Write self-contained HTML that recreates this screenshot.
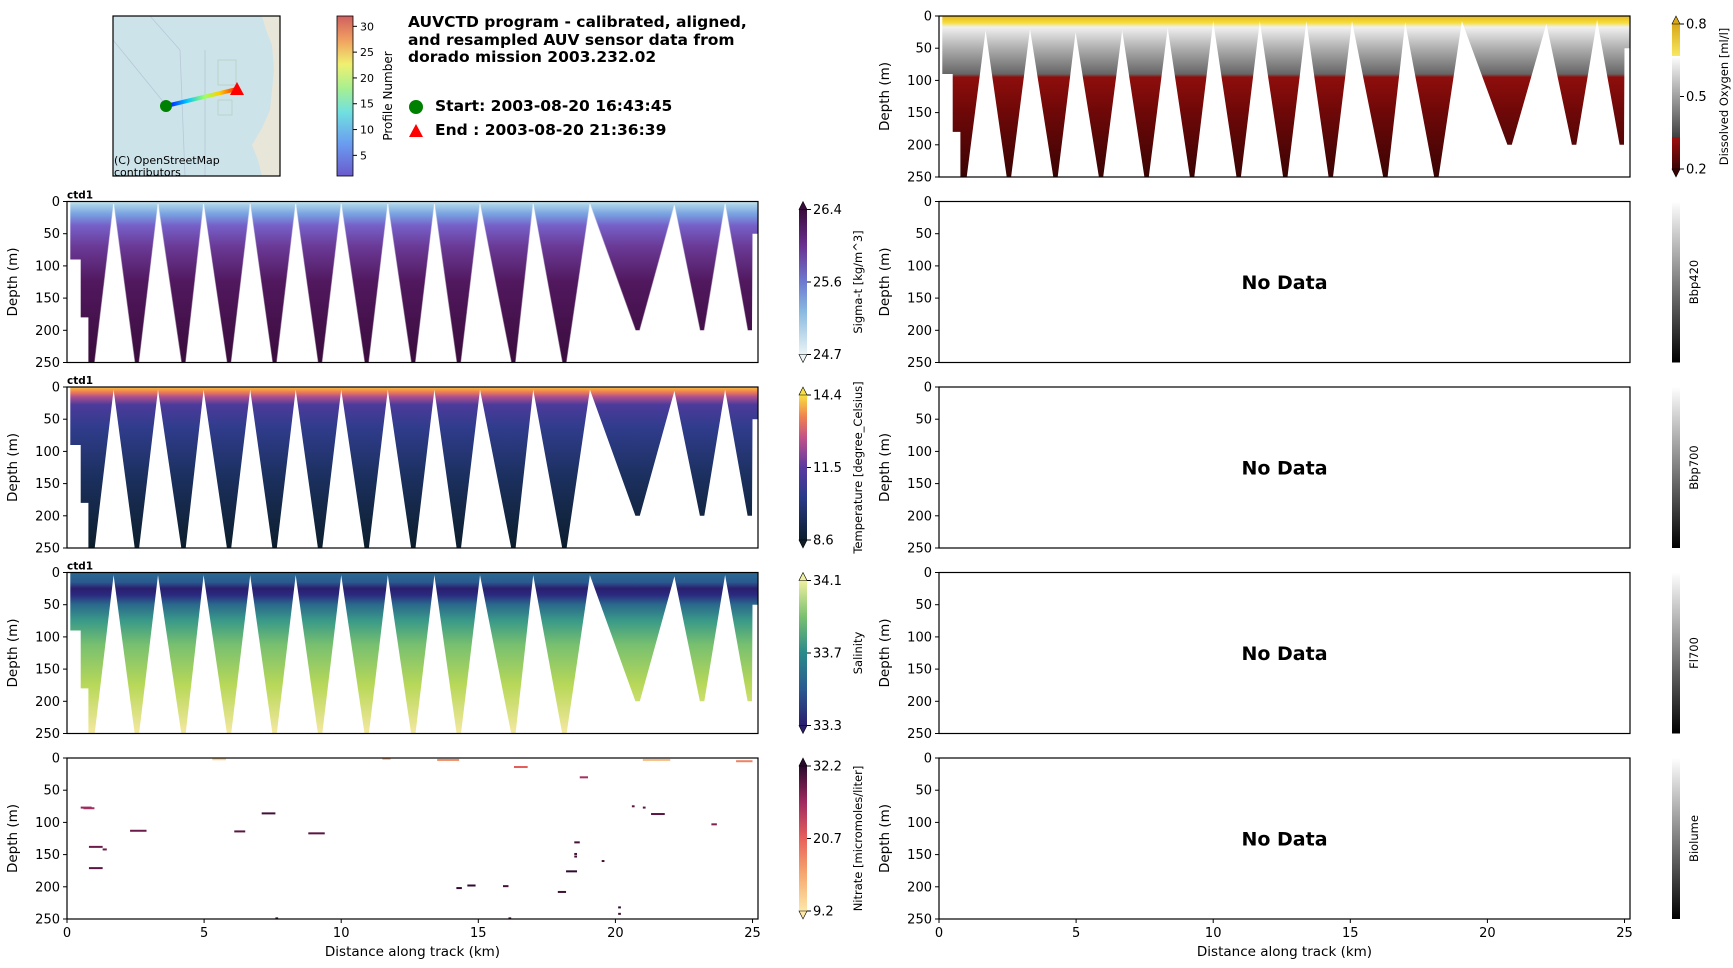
<!DOCTYPE html>
<html><head><meta charset="utf-8"><style>
html,body{margin:0;padding:0;background:#fff;}
svg{display:block;font-family:"DejaVu Sans","Liberation Sans",sans-serif;}
</style></head><body>
<svg id="fig" width="1733" height="968" viewBox="0 0 1733 968" xmlns="http://www.w3.org/2000/svg">
<defs>
<linearGradient id="gProf" x1="0" y1="1" x2="0" y2="0">
<stop offset="0" stop-color="#6a5acd"/><stop offset="0.2" stop-color="#6a9cf0"/><stop offset="0.4" stop-color="#70e0e0"/><stop offset="0.55" stop-color="#a8f090"/><stop offset="0.7" stop-color="#f0f070"/><stop offset="0.85" stop-color="#f0a060"/><stop offset="1" stop-color="#d06060"/></linearGradient>
<linearGradient id="gTrack" x1="0" y1="0" x2="1" y2="0">
<stop offset="0" stop-color="#0000ff"/><stop offset="0.3" stop-color="#00c8ff"/><stop offset="0.55" stop-color="#a0ff60"/><stop offset="0.75" stop-color="#ffd000"/><stop offset="1" stop-color="#ff2000"/></linearGradient>
</defs>
<g id="root"></g>
</svg>
<script>
// ---- data ----
const bottomKm = [0.93,2.55,4.25,5.91,7.57,9.23,10.93,12.63,14.29,16.28,18.14,20.81,23.16,24.9];
const bottomDepth = [250,250,250,250,250,250,250,250,250,250,250,200,200,200];
const apexKm = [1.70,3.32,4.98,6.68,8.34,10.0,11.70,13.40,15.06,17.0,19.07,22.15,24.0];
const apexDepth = [4,4,4,4,4,4,4,4,4,4,4,6,4];
const oxApexDepth = [22,20,25,22,18,8,8,8,8,10,8,12,6];
const xTicks = [0,5,10,15,20,25];
const yTicks = [0,50,100,150,200,250];
const profTicks = [5,10,15,20,25,30];
const nitStart = [0.5,0.6,0.8,1.3,0.8,2.3,6.1,7.1,8.8,5.3,11.5,13.5,16.3,18.7,21.0,24.4,20.6,21.0,21.3,23.5,18.5,18.5,18.5,19.5,18.2,14.2,14.6,15.9,17.9,20.1,20.1,7.6,16.1];
const nitEnd   = [0.9,1.0,1.3,1.45,1.3,2.9,6.5,7.6,9.4,5.8,11.8,14.3,16.8,19.0,22.0,25.0,20.7,21.1,21.8,23.7,18.7,18.6,18.6,19.6,18.6,14.4,14.9,16.1,18.2,20.2,20.2,7.7,16.2];
const nitDepth = [77,78,138,142,171,113,114,86,117,2,1,3,14,30,3,5,75,77,87,103,131,149,153,160,176,202,198,199,208,232,242,249,249];
const nitValue = [27,26,29,29,30,29,30,31,30,11,15,17,21,26,13,18,30,30,30,28,31,31,31,31,32,32,32,31,31,32,31,31,31];

const NS="http://www.w3.org/2000/svg";
const root=document.getElementById('root');
function el(tag,attrs,parent,text){const e=document.createElementNS(NS,tag);for(const k in attrs)e.setAttribute(k,attrs[k]);if(text!==undefined)e.textContent=text;(parent||root).appendChild(e);return e;}
const defs=document.querySelector('defs');
function grad(id,stops,x1,y1,x2,y2){const g=el('linearGradient',{id:id,gradientUnits:'userSpaceOnUse',x1:x1,y1:y1,x2:x2,y2:y2},defs);stops.forEach(s=>el('stop',{offset:s[0],'stop-color':s[1]},g));return 'url(#'+id+')';}

const W=691,H=161,XMAX=25.2;
const LX=67,RX=939,rows=[16,201.5,387,572.5,758];
function sx(x0,km){return x0+km/XMAX*W;}
function sy(y0,d){return y0+d/250*H;}

function axes(x0,y0,showX,name){
  const g=el('g',{});
  
  
  el('rect',{x:x0,y:y0,width:W,height:H,fill:'none',stroke:'#000','stroke-width':1.2},g);
  yTicks.forEach(t=>{const y=sy(y0,t);el('line',{x1:x0-4,x2:x0,y1:y,y2:y,stroke:'#000'},g);
    const tx=el('text',{x:x0-7,y:y+4.5,'text-anchor':'end','font-size':13},g,String(t));
    });
  if(showX){xTicks.forEach(t=>{const x=sx(x0,t);el('line',{x1:x,x2:x,y1:y0+H,y2:y0+H+4,stroke:'#000'},g);
    const tx=el('text',{x:x,y:y0+H+18,'text-anchor':'middle','font-size':13},g,String(t));
    });
    const xl=el('text',{x:x0+W/2,y:y0+H+37,'text-anchor':'middle','font-size':13.5},g,'Distance along track (km)');
    }
  const yl=el('text',{transform:`translate(${x0-50},${y0+H/2}) rotate(-90)`,'text-anchor':'middle','font-size':13.5},g,'Depth (m)');
  
  return g;
}

function sectionPath(x0,y0,apD){
  const P=[];const X=k=>sx(x0,k),Y=d=>sy(y0,d);
  P.push([X(0.12),Y(0)],[X(XMAX),Y(0)],[X(XMAX),Y(50)],[X(25.0),Y(50)]);
  for(let i=bottomKm.length-1;i>=0;i--){
    P.push([X(bottomKm[i]+0.08),Y(bottomDepth[i])],[X(bottomKm[i]-0.08),Y(bottomDepth[i])]);
    if(i>0)P.push([X(apexKm[i-1]),Y(apD[i-1])]);
  }
  P.push([X(0.78),Y(250)],[X(0.78),Y(180)],[X(0.5),Y(180)],[X(0.5),Y(90)],[X(0.12),Y(90)]);
  return 'M'+P.map(p=>p[0].toFixed(1)+','+p[1].toFixed(1)).join('L')+'Z';
}
function vEdges(x0,y0,apD,g){
  for(let i=0;i<apexKm.length;i++){
    [bottomKm[i]+0.08,bottomKm[i+1]-0.08].forEach((b,j)=>{
      const bd=bottomDepth[i+j];
      el('line',{x1:sx(x0,apexKm[i]),y1:sy(y0,apD[i]),x2:sx(x0,b),y2:sy(y0,bd),stroke:'#fff','stroke-opacity':0.45,'stroke-width':1.2},g);
    });
  }
}

function colorbar(x,y0,stops,ticks,label,ext,name,labelX){
  const g=el('g',{});
  
  
  const e=ext?8:0;const top=y0+e,bot=y0+H-e;
  const f=grad(name+'-g',stops,0,bot,0,top);
  el('rect',{x:x,y:top,width:8,height:bot-top,fill:f},g);
  if(ext){el('polygon',{points:`${x},${top} ${x+8},${top} ${x+4},${y0}`,fill:stops[stops.length-1][1],stroke:'#000','stroke-width':0.6},g);
    el('polygon',{points:`${x},${bot} ${x+8},${bot} ${x+4},${y0+H}`,fill:stops[0][1],stroke:'#000','stroke-width':0.6},g);}
  ticks.forEach(t=>{const y=bot-t[0]*(bot-top);el('line',{x1:x+8,x2:x+12,y1:y,y2:y,stroke:'#000'},g);
    el('text',{x:x+14,y:y+4.5,'font-size':13},g,t[1]);});
  el('text',{transform:`translate(${labelX},${y0+H/2}) rotate(-90)`,'text-anchor':'middle','font-size':11.5},g,label);
}

// ---- map ----
(function(){
  const g=el('g',{});
  el('rect',{x:113,y:16,width:167,height:160,fill:'#cce3ea'},g);
  el('polygon',{points:'262,16 280,16 280,176 262,176 258,160 252,145 262,128 270,110 272,90 274,70 272,45 266,30',fill:'#e8e6d8'},g);
  el('path',{d:'M150,16 L180,50 L185,176 M205,50 L205,176 M113,40 L170,110',stroke:'#b8c8d8','stroke-width':0.8,fill:'none'},g);
  el('rect',{x:218,y:60,width:18,height:25,fill:'none',stroke:'#b8d0c0','stroke-width':0.8},g);
  el('rect',{x:218,y:100,width:14,height:15,fill:'none',stroke:'#b8d0c0','stroke-width':0.8},g);
  el('line',{x1:166,y1:106,x2:237,y2:89,stroke:'url(#gTrack)','stroke-width':4},g);
  const s=el('circle',{cx:166,cy:106,r:6,fill:'#008000'},g);
  
  const e=el('polygon',{points:'237,82 244,95 230,95',fill:'#ff0000'},g);
  
  el('text',{x:114,y:164,'font-size':11},g,'(C) OpenStreetMap');
  el('text',{x:114,y:176,'font-size':11},g,'contributors');
  el('rect',{x:113,y:16,width:167,height:160,fill:'none',stroke:'#000','stroke-width':1.2},g);
  const c=el('g',{});
  el('rect',{x:337,y:16,width:16,height:160,fill:'url(#gProf)',stroke:'#000','stroke-width':0.8},c);
  profTicks.forEach(t=>{const y=176-(t-1)/31*160;el('line',{x1:353,x2:357,y1:y,y2:y,stroke:'#000'},c);el('text',{x:360,y:y+4,'font-size':11},c,String(t));});
  el('text',{transform:'translate(392,96) rotate(-90)','text-anchor':'middle','font-size':12},c,'Profile Number');
  const t=el('g',{'font-weight':'bold','font-size':15.5});
  el('text',{x:408,y:27},t,'AUVCTD program - calibrated, aligned,');
  el('text',{x:408,y:45},t,'and resampled AUV sensor data from');
  el('text',{x:408,y:62},t,'dorado mission 2003.232.02');
  el('circle',{cx:416,cy:107,r:7,fill:'#008000'},t);
  el('text',{x:435,y:111},t,'Start: 2003-08-20 16:43:45');
  el('polygon',{points:'416,124 423,137 409,137',fill:'#ff0000'},t);
  el('text',{x:435,y:135},t,'End  : 2003-08-20 21:36:39');
})();

// ---- left sections ----
const panels=[
 {row:1,name:'sigma-t',stops:[[0,'#cfe6ee'],[0.02,'#a8d0e8'],[0.08,'#78a0e0'],[0.15,'#7660c8'],[0.28,'#6a3a96'],[0.5,'#51185e'],[1,'#3a0c3c']],edges:true},
 {row:2,name:'temperature',stops:[[0,'#f8c040'],[0.03,'#f08050'],[0.06,'#b0508e'],[0.11,'#4c3a9a'],[0.25,'#303c8c'],[0.55,'#1c3060'],[1,'#0c1e2c']]},
 {row:3,name:'salinity',stops:[[0,'#2a6a92'],[0.06,'#2a5a90'],[0.1,'#2a1e6e'],[0.14,'#2a2a80'],[0.2,'#2a6a8c'],[0.3,'#3a9a88'],[0.45,'#78c070'],[0.7,'#b8d858'],[1,'#f4e8a0']]}
];
panels.forEach(p=>{
  const y0=rows[p.row];
  const g=el('g',{});
  const f=grad(p.name+'-fill',p.stops,0,y0,0,y0+H);
  el('path',{d:sectionPath(LX,y0,apexDepth),fill:f},g);
  if(p.edges)vEdges(LX,y0,apexDepth,g);
  axes(LX,y0,false,p.name);
  const c=el('text',{x:LX,y:y0-3,'font-size':10.5,'font-weight':'bold'},root,'ctd1');
  
});
colorbar(799,rows[1],[[0,'#eaf4f5'],[0.3,'#88b8e0'],[0.5,'#6c7ad0'],[0.75,'#6a3090'],[1,'#3a0c3c']],[[1,'26.4'],[0.5,'25.6'],[0,'24.7']],'Sigma-t [kg/m^3]',true,'sigma-t-colorbar',862);
colorbar(799,rows[2],[[0,'#0c1e2c'],[0.3,'#2a3a8a'],[0.5,'#5a3aa0'],[0.7,'#c0508a'],[0.85,'#f08050'],[1,'#f8e040']],[[1,'14.4'],[0.5,'11.5'],[0,'8.6']],'Temperature [degree_Celsius]',true,'temperature-colorbar',862);
colorbar(799,rows[3],[[0,'#2a1e6e'],[0.25,'#2a5a90'],[0.5,'#2a8a8a'],[0.75,'#78c070'],[1,'#f0f0a0']],[[1,'34.1'],[0.5,'33.7'],[0,'33.3']],'Salinity',true,'salinity-colorbar',862);
colorbar(799,rows[4],[[0,'#fde8a8'],[0.25,'#f6a870'],[0.5,'#e8605a'],[0.75,'#a02a60'],[1,'#2b0a2e']],[[1,'32.2'],[0.5,'20.7'],[0,'9.2']],'Nitrate [micromoles/liter]',true,'nitrate-colorbar',862);

function nitColor(v){const s=[[0,[253,232,168]],[0.25,[246,168,112]],[0.5,[232,96,90]],[0.75,[160,42,96]],[1,[43,10,46]]];
  let t=Math.max(0,Math.min(1,(v-9.2)/23));for(let i=1;i<s.length;i++){if(t<=s[i][0]){const a=s[i-1],b=s[i],u=(t-a[0])/(b[0]-a[0]);return 'rgb('+a[1].map((c,j)=>Math.round(c+(b[1][j]-c)*u)).join(',')+')';}}return 'rgb(43,10,46)';}
(function(){
  const y0=rows[4];const g=el('g',{});
  for(let i=0;i<nitStart.length;i++){
    const r=el('rect',{x:sx(LX,nitStart[i]),y:sy(y0,nitDepth[i])-1,width:Math.max(1.5,sx(LX,nitEnd[i])-sx(LX,nitStart[i])),height:2,fill:nitColor(nitValue[i])},g);
    
    
  }
  axes(LX,y0,true,'nitrate');
})();

// ---- right: oxygen ----
(function(){
  const y0=rows[0];const g=el('g',{});
  const f=grad('ox-fill',[[0,'#e8b820'],[0.04,'#f5dc38'],[0.07,'#f0f0f0'],[0.18,'#b8b8b8'],[0.36,'#666666'],[0.38,'#8e0e0c'],[0.6,'#6e0808'],[1,'#3a0303']],0,y0,0,y0+H);
  el('path',{d:sectionPath(RX,y0,oxApexDepth),fill:f},g);
  axes(RX,y0,false,'oxygen');
})();
colorbar(1672,rows[0],[[0,'#3a0303'],[0.22,'#a01010'],[0.22,'#404040'],[0.5,'#a0a0a0'],[0.78,'#ffffff'],[0.78,'#f8e860'],[1,'#d8a818']],[[1,'0.8'],[0.5,'0.5'],[0,'0.2']],'Dissolved Oxygen [ml/l]',true,'oxygen-colorbar',1728);
const emptyNames=['Bbp420','Bbp700','Fl700','Biolume'];
emptyNames.forEach((n,i)=>{
  const y0=rows[i+1];
  axes(RX,y0,i===3,n.toLowerCase());
  const t=el('text',{x:RX+W/2,y:y0+H/2+7,'text-anchor':'middle','font-size':19,'font-weight':'bold'},root,'No Data');
  
  colorbar(1672,y0,[[0,'#000000'],[1,'#ffffff']],[],n,false,n.toLowerCase()+'-colorbar',1698);
});
</script>
</body></html>
